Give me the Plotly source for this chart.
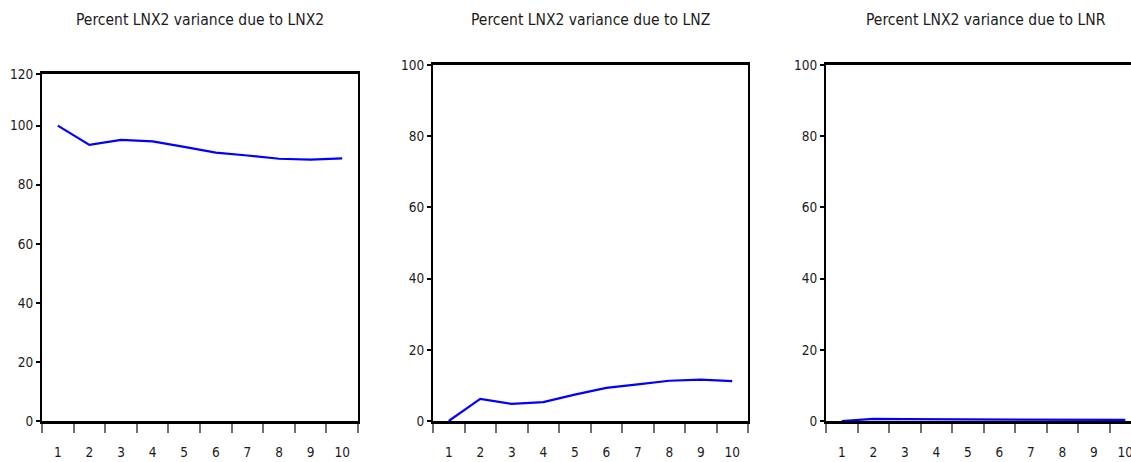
import plotly.graph_objects as go

periods = ["1", "2", "3", "4", "5", "6", "7", "8", "9", "10"]
lnx2_share = [100.0, 93.5, 95.2, 94.7, 92.8, 90.9, 89.9, 88.8, 88.5, 88.9]
lnz_share = [0.0, 6.2, 4.8, 5.3, 7.4, 9.3, 10.3, 11.3, 11.6, 11.2]
lnr_share = [0.0, 0.6, 0.5, 0.45, 0.4, 0.35, 0.3, 0.3, 0.3, 0.3]
titles = ["Percent LNX2 variance due to LNX2",
          "Percent LNX2 variance due to LNZ",
          "Percent LNX2 variance due to LNR"]

# y-axis tick labels
p1_top = 117.5
p1_tickvals = [0, 20, 40, 60, 80, 100, p1_top]
p1_ticktext = ["0", "20", "40", "60", "80", "100", "120"]
p23_tickvals = [0, 20, 40, 60, 80, 100]
p23_ticktext = ["0", "20", "40", "60", "80", "100"]

W, H = 1131, 462
FONT = "DejaVu Sans Condensed, Liberation Sans Narrow, sans-serif"

def px_x(a, b):
    return [a / W, b / W]

def px_y(top, bottom):
    return [(H - bottom) / H, (H - top) / H]

fig = go.Figure()
series = [lnx2_share, lnz_share, lnr_share]
for i, s in enumerate(series):
    fig.add_trace(go.Scatter(
        x=periods, y=s, mode="lines",
        line=dict(color="#0000FF", width=2.2),
        xaxis="x" if i == 0 else f"x{i+1}",
        yaxis="y" if i == 0 else f"y{i+1}",
        showlegend=False, hoverinfo="skip"))

xdoms = [px_x(42, 358), px_x(433, 748), px_x(826, 1131)]
ydoms = [px_y(74, 421), px_y(65, 421), px_y(65, 421)]
xranges = [[-0.5, 9.5], [-0.5, 9.5], [-0.5, 9.18]]
yranges = [[0, p1_top], [0, 100], [0, 100]]
ytv = [(p1_tickvals, p1_ticktext), (p23_tickvals, p23_ticktext), (p23_tickvals, p23_ticktext)]

layout = dict(
    template="none",
    width=W, height=H,
    margin=dict(l=0, r=0, t=0, b=0, pad=0),
    paper_bgcolor="white", plot_bgcolor="white",
    font=dict(family=FONT, size=13, color="#1a1a1a"),
    annotations=[],
)
title_x = [200, 590, 986]
for i in range(3):
    xa = "xaxis" if i == 0 else f"xaxis{i+1}"
    ya = "yaxis" if i == 0 else f"yaxis{i+1}"
    yname = "y" if i == 0 else f"y{i+1}"
    xname = "x" if i == 0 else f"x{i+1}"
    layout[xa] = dict(
        domain=xdoms[i], anchor=yname, type="category",
        range=xranges[i], tickson="boundaries", automargin=False,
        ticks="outside", ticklen=9, tickwidth=1.5, tickcolor="#707070",
        showline=True, linecolor="black", linewidth=3, mirror=True,
        showgrid=False, zeroline=False,
        tickfont=dict(family=FONT, size=13.5, color="#1a1a1a"),
        ticklabelstandoff=17,
    )
    tv, tt = ytv[i]
    layout[ya] = dict(
        domain=ydoms[i], anchor=xname, range=yranges[i], automargin=False,
        tickvals=tv, ticktext=tt,
        ticks="outside", ticklen=4, tickwidth=1.5, tickcolor="black",
        showline=True, linecolor="black", linewidth=2, mirror=True,
        showgrid=False, zeroline=False,
        tickfont=dict(family=FONT, size=13.5, color="#1a1a1a"),
    )
    layout["annotations"].append(dict(
        text=titles[i], x=title_x[i] / W, y=(H - 20) / H,
        xref="paper", yref="paper", xanchor="center", yanchor="middle",
        showarrow=False, font=dict(family=FONT, size=15.5, color="#1a1a1a")))

fig.update_layout(**layout)
fig.write_html(
    "out.html",
    config={"displayModeBar": False},
    post_script="document.body.style.margin='0';document.body.style.overflow='hidden';",
)
